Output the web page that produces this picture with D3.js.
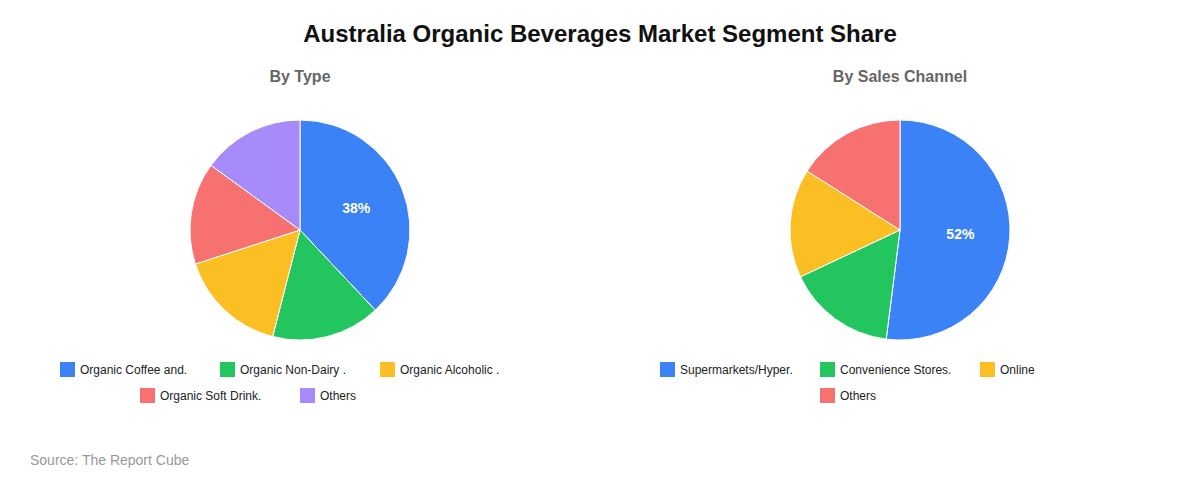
<!DOCTYPE html><html><head><meta charset="utf-8"><script src="https://d3js.org/d3.v7.min.js"></script>
<style>body{margin:0;background:#fff}</style></head><body><svg id="c" width="1200" height="480"></svg>
<script>
const typeLabels=["Organic Coffee and.","Organic Non-Dairy .","Organic Alcoholic .","Organic Soft Drink.","Others"];
const typeValues=[38,16,16,15,15];
const channelLabels=["Supermarkets/Hyper.","Convenience Stores.","Online","Others"];
const channelValues=[52,16,16,16];
const colors=["#3b82f6","#22c55e","#fbbf24","#f87171","#a78bfa"];
const svg=d3.select("#c");const F="Liberation Sans, Arial, sans-serif";
svg.append("text").attr("x",600).attr("y",42).attr("text-anchor","middle").attr("font-family",F).attr("font-size",24).attr("font-weight","bold").attr("fill","#111").text("Australia Organic Beverages Market Segment Share");
svg.append("text").attr("x",30).attr("y",465).attr("font-family",F).attr("font-size",14).attr("fill","#999").text("Source: The Report Cube");
function pie(cx,title,labels,values,legendX,perRow){
  svg.append("text").attr("x",cx).attr("y",82).attr("text-anchor","middle").attr("font-family",F).attr("font-size",16).attr("font-weight","bold").attr("fill","#666").text(title);
  const arcs=d3.pie().sort(null)(values);const r=110;
  const arc=d3.arc().innerRadius(0).outerRadius(r);
  const g=svg.append("g").attr("transform",`translate(${cx},230)`);
  g.selectAll("path").data(arcs).join("path").attr("d",arc).attr("fill",(d,i)=>colors[i]).attr("stroke","#fff").attr("stroke-width",1);
  const tot=d3.sum(values);const la=d3.arc().innerRadius(r*0.55).outerRadius(r*0.55);
  g.selectAll("text").data(arcs.filter(d=>d.data/tot>0.2)).join("text").attr("transform",d=>`translate(${la.centroid(d)})`).attr("text-anchor","middle").attr("dy","0.35em").attr("font-family",F).attr("font-size",14).attr("font-weight","bold").attr("fill","#fff").text(d=>Math.round(d.data/tot*100)+"%");
  labels.forEach((l,i)=>{const row=Math.floor(i/perRow),col=i%perRow;const n=Math.min(perRow,labels.length-row*perRow);
    const x=legendX+(perRow-n)*80+col*160,y=362+row*26;
    svg.append("rect").attr("x",x).attr("y",y).attr("width",15).attr("height",15).attr("fill",colors[i]);
    svg.append("text").attr("x",x+20).attr("y",y+12).attr("font-family",F).attr("font-size",12).attr("fill","#222").text(l);});
}
pie(300,"By Type",typeLabels,typeValues,60,3);
pie(900,"By Sales Channel",channelLabels,channelValues,660,3);
</script></body></html>
